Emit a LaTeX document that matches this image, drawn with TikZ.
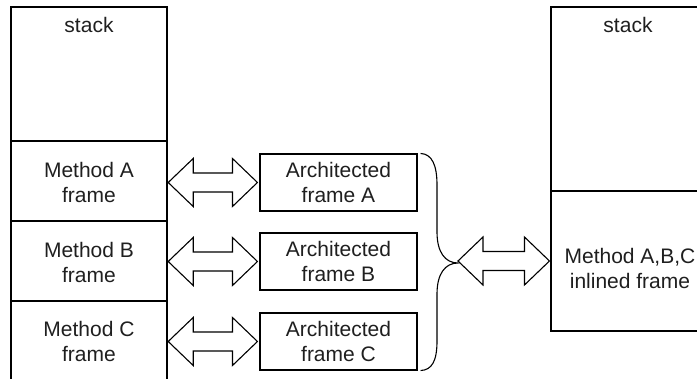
\documentclass[tikz,border=0pt]{standalone}
\usepackage{fontspec}
\setmainfont{Liberation Sans}
\usetikzlibrary{calc}
\newcommand\blkarrow[2]{%
  \draw[blk] let \p1=(#1), \p2=(#2) in
   (\x1,\y2) -- (\x1+25pt,\y2+24pt) -- (\x1+25pt,\y2+9.5pt) -- (\x2-25pt,\y2+9.5pt)
   -- (\x2-25pt,\y2+24pt) -- (\x2,\y2) -- (\x2-25pt,\y2-24pt) -- (\x2-25pt,\y2-9.5pt)
   -- (\x1+25pt,\y2-9.5pt) -- (\x1+25pt,\y2-24pt) -- cycle;}
\begin{document}
\begin{tikzpicture}[x=1pt,y=-1pt,
  ln/.style={draw=black,line width=1.1pt},
  txt/.style={font=\fontsize{21pt}{25pt}\selectfont,text=black!88,align=center,inner sep=0pt},
  cell/.style={txt,minimum width=156pt,minimum height=80pt},
  archbox/.style={txt,draw=black,line width=1.1pt,minimum width=157pt,minimum height=57pt},
  blk/.style={draw=black,line width=1.1pt,line join=miter,fill=white}]
\useasboundingbox (0,0) rectangle (697,379);
% left stack
\draw[ln] (11,395) -- (11,7) -- (167,7) -- (167,395);
\draw[ln] (11,141) -- (167,141);
\draw[ln] (11,221) -- (167,221);
\draw[ln] (11,301) -- (167,301);
\node[txt,anchor=base] (stackL) at (89,33) {stack};
\node[cell] (mA) at (89,182) {Method A\\frame};
\node[cell] (mB) at (89,262) {Method B\\frame};
\node[cell] (mC) at (89,341) {Method C\\frame};
% architected frames
\node[archbox] (aA) at (338.5,182.5) {Architected\\frame A};
\node[archbox] (aB) at (338.5,261.5) {Architected\\frame B};
\node[archbox] (aC) at (338.5,341.5) {Architected\\frame C};
% arrows
\blkarrow{$(mA.east)+(1,0)$}{$(aA.west)+(-2,0)$}
\blkarrow{$(mB.east)+(1,0)$}{$(aB.west)+(-2,0)$}
\blkarrow{$(mC.east)+(1,0)$}{$(aC.west)+(-2,0)$}
% brace
\coordinate (tip) at (458,263);
\draw[ln] (aA.north east) ++(3,0) .. controls (432,154) and (437,165) .. (437,185)
  -- (437,232) .. controls (437,252) and (445,263) .. (tip)
  .. controls (445,263) and (437,274) .. (437,294)
  -- (437,341) .. controls (437,361) and (432,370) .. ($(aC.south east)+(3,0)$);
% right stack
\node[draw=black,line width=1.1pt,minimum width=170pt,minimum height=184pt] (rStack) at (636,99) {};
\node[draw=black,line width=1.1pt,minimum width=170pt,minimum height=140pt] (rInl) at (636,261) {};
\node[txt,anchor=base] (stackR) at (628,33) {stack};
\node[txt] (inl) at (630,268) {Method A,B,C\\inlined frame};
\blkarrow{tip}{$(rInl.west)+(-1,0)$}
\end{tikzpicture}
\end{document}
